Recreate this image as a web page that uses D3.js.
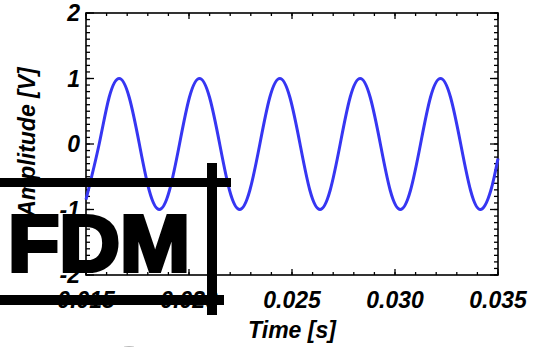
<!DOCTYPE html>
<html lang="en">
<head>
<meta charset="UTF-8">
<title>Amplitude vs Time</title>
<script src="https://d3js.org/d3.v7.min.js"></script>
<style>
  body { margin: 0; background: #fff; }
  svg { display: block; }
  text { font-family: "Liberation Sans", Arial, sans-serif; }
</style>
</head>
<body>
<svg width="533" height="347"></svg>
<script>
// values (time in s, amplitude in V)
const times = [0.015, 0.01564, 0.01612, 0.01661, 0.01710, 0.01759, 0.01807, 0.01856, 0.01905,
  0.01954, 0.02002, 0.02051, 0.02100, 0.02149, 0.02197, 0.02246, 0.02295, 0.02344, 0.02392,
  0.02441, 0.02490, 0.02539, 0.02587, 0.02636, 0.02685, 0.02734, 0.02782, 0.02831, 0.02880,
  0.02929, 0.02977, 0.03026, 0.03075, 0.03124, 0.03172, 0.03221, 0.03270, 0.03319, 0.03367,
  0.03416, 0.03465, 0.035];
const amps = [-0.85, 0, 0.71, 1, 0.71, 0, -0.71, -1, -0.71,
  0, 0.71, 1, 0.71, 0, -0.71, -1, -0.71, 0, 0.71,
  1, 0.71, 0, -0.71, -1, -0.71, 0, 0.71, 1, 0.71,
  0, -0.71, -1, -0.71, 0, 0.71, 1, 0.71, 0, -0.71,
  -1, -0.71, -0.22];
const xTicks = [0.015, 0.020, 0.025, 0.030, 0.035];
const yTicks = [-2, -1, 0, 1, 2];

const svg = d3.select("svg");
const pLeft = 86, pRight = 498, pTop = 13, pBottom = 275;

const x = d3.scaleLinear().domain([0.015, 0.035]).range([pLeft, pRight]);
const y = d3.scaleLinear().domain([-2, 2]).range([pBottom, pTop]);

const g = svg.append("g");

// minor / major ticks, all four sides, pointing inward
const xMinor = d3.range(15, 36).map(d => d / 1000);
const yMinor = d3.range(-20, 21).map(d => d / 10);

function tickSet(sel, scale, values, len, axis, edge) {
  sel.selectAll(null).data(values).join("line")
    .attr("stroke", "#000").attr("stroke-width", 1.3)
    .each(function (d) {
      const s = d3.select(this), p = scale(d);
      if (axis === "x") s.attr("x1", p).attr("x2", p).attr("y1", edge).attr("y2", edge === pBottom ? edge - len : edge + len);
      else s.attr("y1", p).attr("y2", p).attr("x1", edge).attr("x2", edge === pLeft ? edge + len : edge - len);
    });
}
tickSet(g, x, xMinor, 3, "x", pBottom);
tickSet(g, x, xMinor, 3, "x", pTop);
tickSet(g, x, xTicks, 6, "x", pBottom);
tickSet(g, x, xTicks, 6, "x", pTop);
tickSet(g, y, yMinor, 4, "y", pLeft);
tickSet(g, y, yMinor, 4, "y", pRight);
tickSet(g, y, yTicks, 8, "y", pLeft);
tickSet(g, y, yTicks, 8, "y", pRight);

g.append("rect")
  .attr("x", pLeft).attr("y", pTop)
  .attr("width", pRight - pLeft).attr("height", pBottom - pTop)
  .attr("fill", "none").attr("stroke", "#000").attr("stroke-width", 1.6);

// tick labels
g.selectAll(".xl").data(xTicks).join("text")
  .attr("x", d => x(d)).attr("y", 308)
  .attr("text-anchor", "middle")
  .attr("font-size", 23).attr("font-weight", "bold").attr("font-style", "italic")
  .text(d => d3.format(".3f")(d));

g.selectAll(".yl").data(yTicks).join("text")
  .attr("x", 80).attr("y", d => y(d) + 8)
  .attr("text-anchor", "end")
  .attr("font-size", 23).attr("font-weight", "bold").attr("font-style", "italic")
  .text(d => d);

// axis titles
svg.append("text")
  .attr("x", 292).attr("y", 338)
  .attr("text-anchor", "middle")
  .attr("font-size", 23).attr("font-weight", "bold").attr("font-style", "italic")
  .text("Time [s]");

svg.append("text")
  .attr("transform", "translate(35,142) rotate(-90)")
  .attr("text-anchor", "middle")
  .attr("font-size", 23).attr("font-weight", "bold").attr("font-style", "italic")
  .text("Amplitude [V]");

// signal
const line = d3.line()
  .x(d => x(d[0])).y(d => y(d[1]))
  .curve(d3.curveNatural);

svg.append("path")
  .datum(times.map((t, i) => [t, amps[i]]))
  .attr("d", line)
  .attr("fill", "none")
  .attr("stroke", "#3636f2")
  .attr("stroke-width", 3);

// watermark overlay
const wm = svg.append("g");
wm.append("rect").attr("x", 0).attr("y", 178).attr("width", 231).attr("height", 9).attr("fill", "#000");
wm.append("rect").attr("x", 207).attr("y", 163).attr("width", 10).attr("height", 152).attr("fill", "#000");
wm.append("rect").attr("x", 0).attr("y", 295).attr("width", 224).attr("height", 10).attr("fill", "#000");
wm.append("text")
  .attr("x", 8).attr("y", 271)
  .attr("font-size", 80).attr("font-weight", "bold")
  .attr("fill", "#000").attr("stroke", "#000").attr("stroke-width", 4)
  .attr("textLength", 182).attr("lengthAdjust", "spacingAndGlyphs")
  .text("FDM");
wm.append("text")
  .attr("x", 129).attr("y", 388)
  .attr("text-anchor", "middle")
  .attr("font-size", 60).attr("font-weight", "bold")
  .attr("fill", "#777")
  .text("O");
</script>
</body>
</html>
